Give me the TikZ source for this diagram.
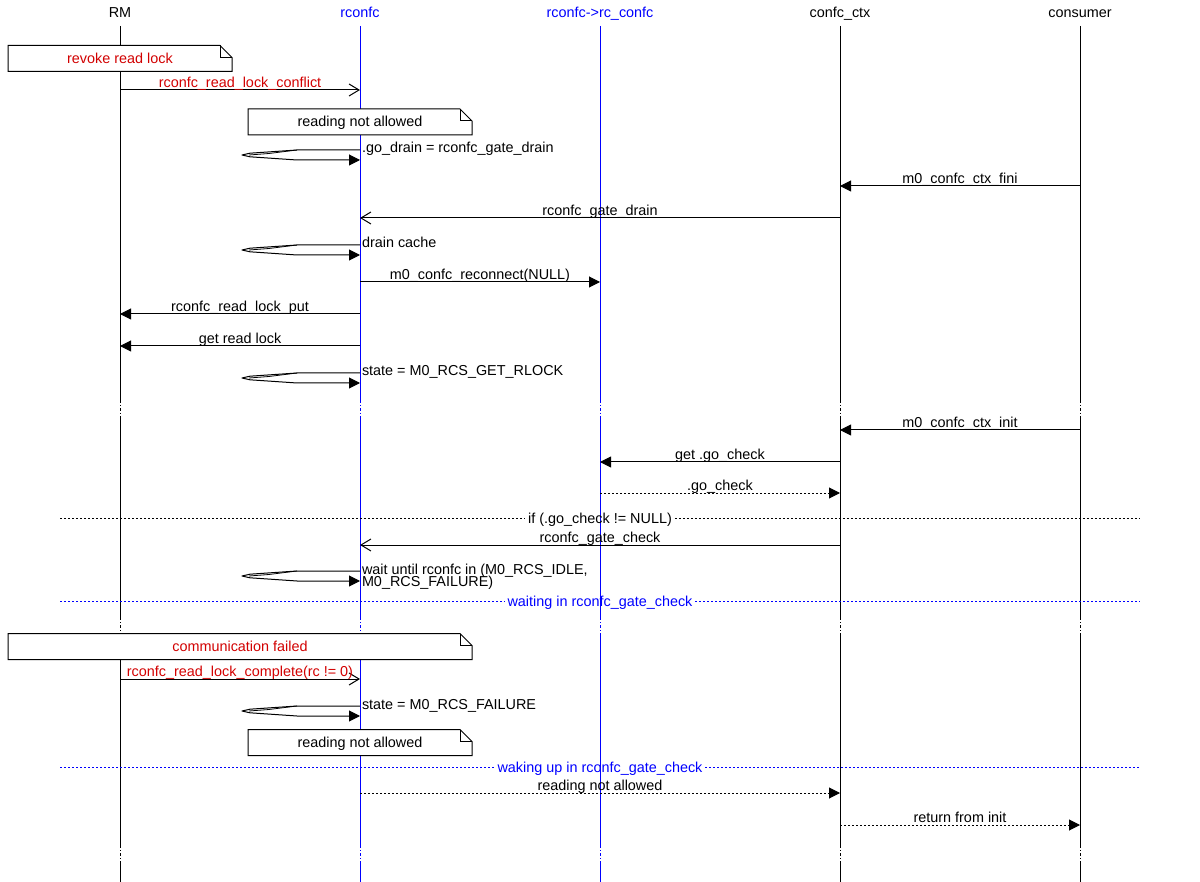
\documentclass[tikz,border=0pt]{standalone}
\usepackage{fontspec}
\setmainfont{Liberation Sans}
\usetikzlibrary{arrows.meta,calc}
\definecolor{mred}{RGB}{210,0,0}
\definecolor{mblue}{RGB}{0,0,255}
\newcommand\lifeline[2]{%
  \draw[#2] (#1 |- 0,26) -- (#1 |- 0,400);
  \draw[#2,gapdash] (#1 |- 0,400) -- (#1 |- 0,416);
  \draw[#2] (#1 |- 0,416) -- (#1 |- 0,617);
  \draw[#2,gapdash] (#1 |- 0,617) -- (#1 |- 0,633);
  \draw[#2] (#1 |- 0,633) -- (#1 |- 0,845);
  \draw[#2,gapdash] (#1 |- 0,845) -- (#1 |- 0,863);
  \draw[#2] (#1 |- 0,863) -- (#1 |- 0,882);}
\newcommand\msgline[6]{%
  \draw[#1] (#2 |- 0,#4) -- node[lbl,text=#6,yshift=2.5pt]{#5} (#3 |- 0,#4);}
\newcommand\selfmsg[3]{%
  \draw[msg,line join=round] (RC |- 0,#1) -- ++(-63,0) -- ++(-22,1.5) -- ++(-25,1.7) -- ++(-8,1.8)
     -- ++(8,1.8) -- ++(25,1.7) -- ++(22,1.5) -- ++(63,0);
  \draw[line width=0.8pt] ($(RC |- 0,#1)+(-63,0)$) -- ++(-28,3.5) -- ++(-20,1.5);
  \node[anchor=base west] (#2) at ($(RC |- 0,#1)+(2,3)$) {#3};}
\newcommand\mnote[7]{% name, cx, cy, width, text, color
  \node[minimum width=#4pt,minimum height=26pt] (#1) at (#2,#3) {};
  \filldraw[fill=white,draw=black] (#1.north west) -- ([xshift=-12pt]#1.north east)
     -- ([yshift=-12pt]#1.north east) -- (#1.south east) -- (#1.south west) -- cycle;
  \draw ([xshift=-12pt]#1.north east) -- ([xshift=-12pt,yshift=-12pt]#1.north east)
     -- ([yshift=-12pt]#1.north east);
  \node[anchor=base,text=#6] (#7) at ($(#1.north)+(0,18)$) {#5};}
\newcommand\divider[4]{% name, y, text, color
  \node[anchor=base,text=#4,inner xsep=3pt] (#1) at (600,#2+5) {#3};
  \coordinate (#1L) at (60,#2);
  \coordinate (#1R) at (1140,#2);
  \draw[dotline,#4] (#1L) -- (#1.west |- #1L);
  \draw[dotline,#4] (#1.east |- #1R) -- (#1R);}
\begin{document}
\begin{tikzpicture}[x=1pt,y=-1pt,
  font=\fontsize{14.4}{15}\selectfont, line width=1pt,
  every node/.style={inner sep=0pt,outer sep=0pt},
  lbl/.style={anchor=base},
  head/.style={anchor=base},
  gapdash/.style={dash pattern=on 3pt off 2pt on 1pt off 2pt},
  dotline/.style={dash pattern=on 2pt off 2pt},
  msg/.style={draw=black,-{Triangle[length=11pt,width=11pt]}},
  opn/.style={draw=black,-{Straight Barb[length=10pt,width=12pt]}},
  dmsg/.style={msg,dash pattern=on 2pt off 2pt}]
\useasboundingbox (0,0) rectangle (1200,882);
% headers
\node[head] (RM) at (120,18) {RM};
\node[head,text=mblue] (RC) at (360,18) {rconfc};
\node[head,text=mblue] (RR) at (600,18) {rconfc->rc\_confc};
\node[head] (CX) at (840,18) {confc\_ctx};
\node[head] (CS) at (1080,18) {consumer};
% lifelines
\lifeline{RM}{black}
\lifeline{RC}{mblue}
\lifeline{RR}{mblue}
\lifeline{CX}{black}
\lifeline{CS}{black}
% notes
\mnote{n1}{120}{58.5}{224}{revoke read lock}{mred}{n1t}
\mnote{n2}{360}{122}{224}{reading not allowed}{black}{n2t}
\mnote{n3}{240}{646.5}{464}{communication failed}{mred}{n3t}
\mnote{n4}{360}{742.5}{224}{reading not allowed}{black}{n4t}
% messages
\msgline{opn}{RM}{RC}{90}{rconfc\_read\_lock\_conflict}{mred}
\selfmsg{150}{s1}{.go\_drain = rconfc\_gate\_drain}
\msgline{msg}{CS}{CX}{186}{m0\_confc\_ctx\_fini}{black}
\msgline{opn}{CX}{RC}{218}{rconfc\_gate\_drain}{black}
\selfmsg{245}{s2}{drain cache}
\msgline{msg}{RC}{RR}{282}{m0\_confc\_reconnect(NULL)}{black}
\msgline{msg}{RC}{RM}{314}{rconfc\_read\_lock\_put}{black}
\msgline{msg}{RC}{RM}{346}{get read lock}{black}
\selfmsg{373}{s3}{state = M0\_RCS\_GET\_RLOCK}
\msgline{msg}{CS}{CX}{430}{m0\_confc\_ctx\_init}{black}
\msgline{msg}{CX}{RR}{462}{get .go\_check}{black}
\msgline{dmsg}{RR}{CX}{493}{.go\_check}{black}
\divider{d1}{518}{if (.go\_check != NULL)}{black}
\msgline{opn}{CX}{RC}{545}{rconfc\_gate\_check}{black}
\selfmsg{571}{s4}{wait until rconfc in (M0\_RCS\_IDLE,}
\node[anchor=base west] (s4b) at ($(s4.base west)+(0,12.5)$) {M0\_RCS\_FAILURE)};
\divider{d2}{601}{waiting in rconfc\_gate\_check}{mblue}
\msgline{opn}{RM}{RC}{679}{rconfc\_read\_lock\_complete(rc != 0)}{mred}
\selfmsg{706}{s5}{state = M0\_RCS\_FAILURE}
\divider{d3}{767}{waking up in rconfc\_gate\_check}{mblue}
\msgline{dmsg}{RC}{CX}{793}{reading not allowed}{black}
\msgline{dmsg}{CX}{CS}{825}{return from init}{black}
\end{tikzpicture}
\end{document}
